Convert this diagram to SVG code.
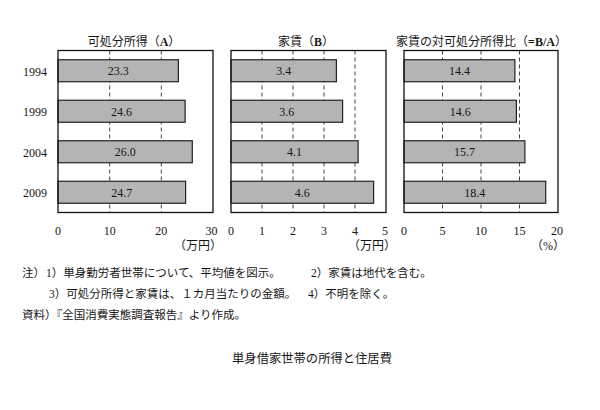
<svg xmlns="http://www.w3.org/2000/svg" width="600" height="410" viewBox="0 0 600 410">
<style>
text{font-family:'Liberation Serif','Noto Sans CJK JP',serif;fill:#161616;}
.num{font-size:12px;}
.ttl{font-size:12px;text-anchor:middle;}
.note{font-size:11.5px;}
.mid{text-anchor:middle;}
.end{text-anchor:end;}
.b{font-weight:bold;}
.frame{fill:none;stroke:#111;stroke-width:1.3;}
.grid{stroke:#444;stroke-width:1;stroke-dasharray:4,3;}
.bar{fill:#b4b4b4;stroke:#222;stroke-width:1.2;}
</style>
<rect width="600" height="410" fill="#fff"/>

<g id="years" class="num">
<text x="47" y="75.7" class="end">1994</text>
<text x="47" y="116.2" class="end">1999</text>
<text x="47" y="156.7" class="end">2004</text>
<text x="47" y="197.2" class="end">2009</text>
</g>

<g id="panel-A">
<text x="134" y="46" class="ttl">可処分所得（<tspan class="b">A</tspan>）</text>
<line class="grid" x1="109.7" y1="50.5" x2="109.7" y2="212.5"/>
<line class="grid" x1="161.3" y1="50.5" x2="161.3" y2="212.5"/>
<rect class="bar" x="58" y="59.75" width="120.4" height="22"/>
<rect class="bar" x="58" y="100.25" width="127.1" height="22"/>
<rect class="bar" x="58" y="140.75" width="134.3" height="22"/>
<rect class="bar" x="58" y="181.25" width="127.6" height="22"/>
<g class="num mid">
<text x="118.2" y="75.3">23.3</text>
<text x="121.5" y="115.8">24.6</text>
<text x="125.2" y="156.3">26.0</text>
<text x="121.8" y="196.8">24.7</text>
</g>
<rect class="frame" x="58" y="50.5" width="155" height="162"/>
<g class="num mid">
<text x="58" y="234.5">0</text>
<text x="109.7" y="234.5">10</text>
<text x="161.3" y="234.5">20</text>
<text x="211.5" y="234.5">30</text>
</g>
<text x="198" y="250" class="ttl">（万円）</text>
</g>

<g id="panel-B">
<text x="306" y="46" class="ttl">家賃（<tspan class="b">B</tspan>）</text>
<line class="grid" x1="262" y1="50.5" x2="262" y2="212.5"/>
<line class="grid" x1="293" y1="50.5" x2="293" y2="212.5"/>
<line class="grid" x1="324" y1="50.5" x2="324" y2="212.5"/>
<line class="grid" x1="355" y1="50.5" x2="355" y2="212.5"/>
<rect class="bar" x="231" y="59.75" width="105.4" height="22"/>
<rect class="bar" x="231" y="100.25" width="111.6" height="22"/>
<rect class="bar" x="231" y="140.75" width="127.1" height="22"/>
<rect class="bar" x="231" y="181.25" width="142.6" height="22"/>
<g class="num mid">
<text x="283.7" y="75.3">3.4</text>
<text x="286.8" y="115.8">3.6</text>
<text x="294.5" y="156.3">4.1</text>
<text x="302.3" y="196.8">4.6</text>
</g>
<rect class="frame" x="231" y="50.5" width="155" height="162"/>
<g class="num mid">
<text x="231" y="234.5">0</text>
<text x="262" y="234.5">1</text>
<text x="293" y="234.5">2</text>
<text x="324" y="234.5">3</text>
<text x="355" y="234.5">4</text>
<text x="385" y="234.5">5</text>
</g>
<text x="372" y="250" class="ttl">（万円）</text>
</g>

<g id="panel-C">
<text x="481.5" y="46" class="ttl">家賃の対可処分所得比（<tspan class="b">=B/A</tspan>）</text>
<line class="grid" x1="442.5" y1="50.5" x2="442.5" y2="212.5"/>
<line class="grid" x1="481" y1="50.5" x2="481" y2="212.5"/>
<line class="grid" x1="519.5" y1="50.5" x2="519.5" y2="212.5"/>
<rect class="bar" x="404" y="59.75" width="110.9" height="22"/>
<rect class="bar" x="404" y="100.25" width="112.4" height="22"/>
<rect class="bar" x="404" y="140.75" width="120.9" height="22"/>
<rect class="bar" x="404" y="181.25" width="141.7" height="22"/>
<g class="num mid">
<text x="459.5" y="75.3">14.4</text>
<text x="460.2" y="115.8">14.6</text>
<text x="464.5" y="156.3">15.7</text>
<text x="474.8" y="196.8">18.4</text>
</g>
<rect class="frame" x="404" y="50.5" width="154" height="162"/>
<g class="num mid">
<text x="404" y="234.5">0</text>
<text x="442.5" y="234.5">5</text>
<text x="481" y="234.5">10</text>
<text x="519.5" y="234.5">15</text>
<text x="557" y="234.5">20</text>
</g>
<text x="548" y="250" class="ttl">（%）</text>
</g>

<g id="notes" class="note">
<text x="22" y="277">注）</text>
<text x="46" y="277">1）単身勤労者世帯について、平均値を図示。</text>
<text x="311" y="277">2）家賃は地代を含む。</text>
<text x="49" y="298">3）可処分所得と家賃は、１カ月当たりの金額。</text>
<text x="308" y="298">4）不明を除く。</text>
<text x="22" y="319">資料）『全国消費実態調査報告』より作成。</text>
</g>

<g id="caption">
<text x="312" y="363" class="mid" style="font-size:12.3px">単身借家世帯の所得と住居費</text>
</g>
</svg>
